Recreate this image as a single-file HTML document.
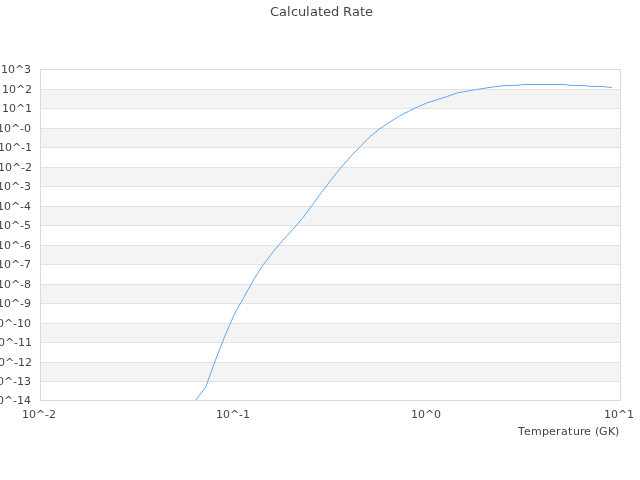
<!DOCTYPE html>
<html><head><meta charset="utf-8"><title>Calculated Rate</title>
<style>html,body{margin:0;padding:0;background:#fff;overflow:hidden}svg{display:block}text{font-family:"DejaVu Sans","Liberation Sans",sans-serif;fill:#454545;white-space:pre}</style></head>
<body>
<svg width="640" height="480" viewBox="0 0 640 480">
<rect x="0" y="0" width="640" height="480" fill="#ffffff"/>
<rect x="41" y="90" width="579" height="18" fill="#f4f4f4"/>
<rect x="41" y="129" width="579" height="18" fill="#f4f4f4"/>
<rect x="41" y="168" width="579" height="18" fill="#f4f4f4"/>
<rect x="41" y="207" width="579" height="18" fill="#f4f4f4"/>
<rect x="41" y="246" width="579" height="18" fill="#f4f4f4"/>
<rect x="41" y="285" width="579" height="18" fill="#f4f4f4"/>
<rect x="41" y="324" width="579" height="18" fill="#f4f4f4"/>
<rect x="41" y="363" width="579" height="18" fill="#f4f4f4"/>
<rect x="41" y="89" width="579" height="1" fill="#e2e2e2"/>
<rect x="41" y="108" width="579" height="1" fill="#e2e2e2"/>
<rect x="41" y="128" width="579" height="1" fill="#e2e2e2"/>
<rect x="41" y="147" width="579" height="1" fill="#e2e2e2"/>
<rect x="41" y="167" width="579" height="1" fill="#e2e2e2"/>
<rect x="41" y="186" width="579" height="1" fill="#e2e2e2"/>
<rect x="41" y="206" width="579" height="1" fill="#e2e2e2"/>
<rect x="41" y="225" width="579" height="1" fill="#e2e2e2"/>
<rect x="41" y="245" width="579" height="1" fill="#e2e2e2"/>
<rect x="41" y="264" width="579" height="1" fill="#e2e2e2"/>
<rect x="41" y="284" width="579" height="1" fill="#e2e2e2"/>
<rect x="41" y="303" width="579" height="1" fill="#e2e2e2"/>
<rect x="41" y="323" width="579" height="1" fill="#e2e2e2"/>
<rect x="41" y="342" width="579" height="1" fill="#e2e2e2"/>
<rect x="41" y="362" width="579" height="1" fill="#e2e2e2"/>
<rect x="41" y="381" width="579" height="1" fill="#e2e2e2"/>
<rect x="40.5" y="69.5" width="580" height="331" fill="none" stroke="#dbdbdb" stroke-width="1"/>
<text x="1 8 15 24" y="73" font-size="11">10^3</text>
<text x="2 9 16 25" y="93" font-size="11">10^2</text>
<text x="2 9 16 25" y="112" font-size="11">10^1</text>
<text x="-3 4 11 20 24" y="132" font-size="11">10^-0</text>
<text x="-2 5 12 21 25" y="151" font-size="11">10^-1</text>
<text x="-2 5 12 21 25" y="171" font-size="11">10^-2</text>
<text x="-3 4 11 20 24" y="190" font-size="11">10^-3</text>
<text x="-3 4 11 20 24" y="210" font-size="11">10^-4</text>
<text x="-3 4 11 20 24" y="229" font-size="11">10^-5</text>
<text x="-3 4 11 20 24" y="249" font-size="11">10^-6</text>
<text x="-3 4 11 20 24" y="268" font-size="11">10^-7</text>
<text x="-3 4 11 20 24" y="288" font-size="11">10^-8</text>
<text x="-3 4 11 20 24" y="307" font-size="11">10^-9</text>
<text x="-10 -3 4 13 17 24" y="327" font-size="11">10^-10</text>
<text x="-9 -2 5 14 18 25" y="346" font-size="11">10^-11</text>
<text x="-9 -2 5 14 18 25" y="366" font-size="11">10^-12</text>
<text x="-10 -3 4 13 17 24" y="385" font-size="11">10^-13</text>
<text x="-10 -3 4 13 17 24" y="404" font-size="11">10^-14</text>
<text x="22 29 36 45 49" y="418" font-size="11">10^-2</text>
<text x="216 223 230 239 243" y="418" font-size="11">10^-1</text>
<text x="411 418 425 434" y="418" font-size="11">10^0</text>
<text x="604 611 618 627" y="418" font-size="11">10^1</text>
<text x="518 524 531 542 549 556 561 568 573 580 584 591 595 599 608 615" y="435" font-size="11">Temperature (GK)</text>
<text x="270 279 287 291 298 306 310 318 323 331 339 343 352 360 365" y="16" font-size="13">Calculated Rate</text>
<polyline points="195.87,400.00 205.53,387.50 215.20,360.93 224.87,335.98 234.53,313.90 244.20,296.75 253.87,279.28 263.53,264.36 273.20,251.78 282.87,240.19 292.53,229.63 302.20,218.71 311.87,205.56 321.53,192.36 331.20,179.73 340.87,167.57 350.53,156.68 360.20,146.60 369.87,136.80 379.53,129.00 389.20,122.42 398.87,116.31 408.53,111.33 418.20,106.65 427.87,102.60 437.53,99.60 447.20,96.50 456.87,92.94 466.53,91.25 476.20,89.56 485.87,88.04 495.53,86.63 505.20,85.50 514.87,85.50 524.53,84.50 563.20,84.50 572.87,85.50 582.53,85.50 592.20,86.50 601.87,86.50 612.00,87.50" fill="none" stroke="#5fa8f1" stroke-width="1" stroke-linejoin="round"/>
</svg>
</body></html>
